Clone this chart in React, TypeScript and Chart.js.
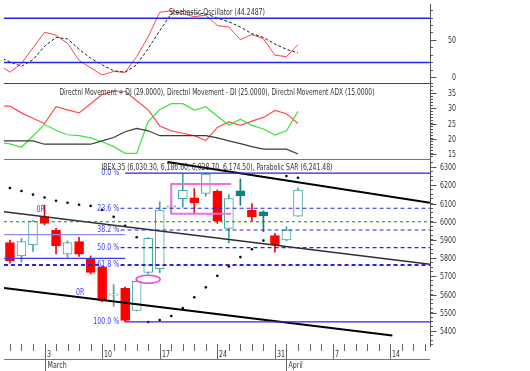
import React, { useEffect, useRef } from "react";
import { Chart, registerables } from "chart.js";

Chart.register(...registerables);

// ---------------- data ----------------
// trading days: index 0 = Feb 27, index 3 = Mar 3, index 24 = Apr 1
const candleOpen = [5886, 5813, 5873, 6028, 5955, 5822, 5891, 5795, 5750, 5597, 5634, 5513, 5722, 5742, 6080, 6127, 6131, 6155, 6167, 5964, 6170, 6064, 6055, 5924, 5901, 6030.3];
const candleHigh = [5900, 5909, 6008, 6091, 5964, 5895, 5915, 5813, 5760, 5655, 5641, 5683, 5913, 6109, 6127, 6264, 6182, 6267, 6175, 6149, 6236, 6100, 6060, 5937, 5973, 6186.6];
const candleLow = [5773, 5779, 5837, 5982, 5824, 5804, 5810, 5713, 5560, 5537, 5450, 5510, 5715, 5719, 6045, 6080, 6045, 6140, 5991, 5882, 6091, 6004, 5946, 5833, 5895, 6028.7];
const candleClose = [5786, 5891, 6004, 5991, 5869, 5886, 5822, 5722, 5568, 5605, 5459, 5673, 5909, 6064, 6088, 6173, 6105, 6262, 6004, 6127, 6142, 6028, 6033, 5873, 5955, 6174.5];
const sarValues = [6185, 6169, 6149, 6133, 6115, 6104, 6093, 6087, 6065, 6027, 5978, 5915, 5450, 5461, 5483, 5526, 5586, 5640, 5703, 5755, 5806, 5849, 5897, null, 6251, 6241.48];

// indicator series start one day earlier (index -1)
const indicatorStart = -1;
const stochK = [18, 7, 19, 40, 61, 57, 46, 23, 13, 3.5, 8, 7, 28, 55, 88, 90, 86, 82, 84, 70, 68, 51, 58, 52, 30, 28, 44.2487];
const stochD = [28, 21, 15, 24, 42, 54, 52, 38, 26, 17, 9, 7, 17, 39, 63, 86, 89, 87, 86, 80, 75, 68, 59, 54, 45, 38, 33];
const plusDI = [18.8, 18.3, 17.2, 20.9, 24.7, 22.8, 21.3, 21, 20.3, 19, 17.4, 15.2, 15.2, 25.6, 29.5, 31.5, 31.5, 29.4, 30.5, 27.4, 24.5, 26.4, 24.4, 23.2, 21.2, 22.6, 29];
const minusDI = [30.7, 30.7, 28.5, 26.7, 25, 30.5, 29.5, 28.5, 31.5, 34.5, 35.6, 35.6, 32.5, 29.5, 24.2, 22.6, 21.8, 21, 19.4, 23.7, 25.5, 24.4, 25.8, 27, 29.3, 28.2, 25];
const adxValues = [19.3, 19.3, 19.3, 19.3, 18.2, 18.2, 18.2, 18.2, 18.2, 19.3, 20.4, 22.3, 23.4, 22.6, 21, 21, 21, 21, 21, 20.3, 19.3, 18.4, 17.4, 16.6, 16.6, 16.6, 15];

const stochBands = [80, 20];

// Fibonacci retracement (swing high / swing low)
const fibHigh = 6267;
const fibLow = 5450;
const fibLevels = [0, 23.6, 38.2, 50, 61.8, 100];
const fibLabels = ["0.0 %", "23.6 %", "38.2 %", "50.0 %", "61.8 %", "100.0 %"];
const fibStartIdx = 10;

// drawn studies (index, price)
const trendA = [{ x: -0.516, y: 6055 }, { x: 36.457, y: 5767 }];
const trendB = [{ x: 13.67, y: 6328 }, { x: 36.457, y: 6104 }];
const trendC = [{ x: -0.516, y: 5637 }, { x: 33.19, y: 5376 }];
const greenLevel = 6000;
const oldLevels = [5929, 5799];
const boxTop = 6207;
const boxBottom = 6044;
const boxFrom = 14;
const boxTo = 19.2;
const gapMark = { x: 12, y: 5684 };
const orLabels = [{ x: 2.67, y: 6066 }, { x: 6.1, y: 5613 }];

// axis labels
const weekIdx = [3, 8, 13, 18, 23, 28, 33];
const weekLabels = ["3", "10", "17", "24", "31", "7", "14"];
const monthIdx = [3, 24];
const monthLabels = ["March", "April"];
const stochTicks = [50, 0];
const dmiTicks = [35, 30, 25, 20, 15];
const priceTicks = [6300, 6200, 6100, 6000, 5900, 5800, 5700, 5600, 5500, 5400];

const titleStoch = "Stochastic Oscillator (44.2487)";
const titleDmi = "Directnl Movement + DI (29.0000), Directnl Movement - DI (25.0000), Directnl Movement ADX (15.0000)";
const titlePrice = "IBEX 35 (6,030.30, 6,186.60, 6,028.70, 6,174.50), Parabolic SAR (6,241.48)";

// ---------------- layout / style ----------------
const X_MIN = -0.516;
const X_MAX = 36.457;
const FONT = '"Liberation Sans Narrow", "Arial Narrow", "DejaVu Sans Condensed", "Liberation Sans", sans-serif';
const TEAL = "#44a6a6";
const TEAL_DARK = "#157f7f";
const RED = "#ff0000";
const BLUE = "#2424f0";
const FIB_BLUE = "#3b3bff";

const range = (a: number, b: number, s: number) => {
  const out: number[] = [];
  for (let v = a; v <= b + 1e-9; v += s) out.push(Math.round(v * 1000) / 1000);
  return out;
};

const series = (vals: (number | null)[], start: number) => vals.map((v, i) => ({ x: start + i, y: v }));

const seg = (pts: any[], color: string, width: number, axis: string, dash: number[] = [], order = 0) => ({
  type: "line",
  data: pts,
  borderColor: color,
  borderWidth: width,
  borderDash: dash,
  pointRadius: 0,
  fill: false,
  tension: 0,
  yAxisID: axis,
  xAxisID: "x",
  order,
});

const fibPrice = (lvl: number) => fibHigh - (lvl / 100) * (fibHigh - fibLow);

function buildConfig() {
  const idx = candleOpen.map((_, i) => i);
  const kinds = idx.map((i) => {
    const prev = i > 0 ? candleClose[i - 1] : candleOpen[i];
    if (candleClose[i] < prev) return "red";
    return candleClose[i] < candleOpen[i] ? "filled" : "hollow";
  });
  const lineColor = kinds.map((k) => (k === "red" ? RED : k === "filled" ? TEAL_DARK : TEAL));

  const datasets: any[] = [];
  // stochastic
  stochBands.forEach((b) => datasets.push(seg([{ x: X_MIN, y: b }, { x: X_MAX, y: b }], BLUE, 1.5, "yS")));
  datasets.push(seg(series(stochD, indicatorStart), "#222222", 1, "yS", [3, 2]));
  datasets.push(seg(series(stochK, indicatorStart), "#ff4545", 1, "yS"));
  // DMI
  datasets.push(seg(series(adxValues, indicatorStart), "#3a3a3a", 1.2, "yD"));
  datasets.push(seg(series(plusDI, indicatorStart), "#3ee23e", 1.2, "yD"));
  datasets.push(seg(series(minusDI, indicatorStart), "#ff4d4d", 1.2, "yD"));

  // price panel studies
  datasets.push(seg([{ x: X_MIN, y: greenLevel }, { x: X_MAX, y: greenLevel }], "#1b7d1b", 1, "yP", [3, 3]));
  datasets.push(seg([{ x: X_MIN, y: oldLevels[0] }, { x: fibStartIdx, y: oldLevels[0] }], "#8c8cf0", 1.3, "yP"));
  datasets.push(seg([{ x: X_MIN, y: oldLevels[1] }, { x: fibStartIdx, y: oldLevels[1] }], "#3a3af5", 1.3, "yP"));
  fibLevels.forEach((lvl) => {
    const p = fibPrice(lvl);
    if (lvl === 0 || lvl === 100) {
      datasets.push(seg([{ x: fibStartIdx, y: p }, { x: X_MAX, y: p }], BLUE, 1.3, "yP"));
    } else if (lvl === 61.8) {
      datasets.push(seg([{ x: X_MIN, y: p }, { x: 7.85, y: p }], BLUE, 2, "yP", [4, 3]));
      datasets.push(seg([{ x: 9.6, y: p }, { x: X_MAX, y: p }], BLUE, 2, "yP", [4, 3]));
    } else {
      datasets.push(seg([{ x: 9.6, y: p }, { x: X_MAX, y: p }], BLUE, 1.2, "yP", [4, 3]));
    }
  });
  datasets.push(
    seg(
      [
        { x: boxTo, y: boxTop },
        { x: boxFrom, y: boxTop },
        { x: boxFrom, y: boxBottom },
        { x: boxTo, y: boxBottom },
      ],
      "#f070e0",
      2,
      "yP"
    )
  );
  datasets.push(seg(trendA, "#2e2e2e", 1.5, "yP"));
  datasets.push(seg(trendB, "#000000", 2, "yP"));
  datasets.push(seg(trendC, "#000000", 2, "yP"));

  // parabolic SAR
  datasets.push({
    type: "line",
    data: series(sarValues, 0),
    showLine: false,
    pointRadius: 1.3,
    pointBorderWidth: 0,
    pointBackgroundColor: "#000",
    yAxisID: "yP",
    xAxisID: "x",
    order: 0,
  });

  // candles: wicks then bodies
  datasets.push({
    type: "bar",
    data: idx.map((i) => ({ x: i, y: [candleLow[i], candleHigh[i]] })),
    backgroundColor: lineColor,
    borderWidth: 0,
    barThickness: 1,
    maxBarThickness: 1,
    grouped: false,
    yAxisID: "yP",
    xAxisID: "x",
    order: 3,
  });
  datasets.push({
    type: "bar",
    data: idx.map((i) => ({ x: i, y: [candleOpen[i], candleClose[i]] })),
    backgroundColor: kinds.map((k) => (k === "hollow" ? "#ffffff" : k === "filled" ? TEAL_DARK : RED)),
    borderColor: lineColor,
    borderWidth: 1,
    borderSkipped: false,
    barThickness: 9,
    maxBarThickness: 9,
    grouped: false,
    yAxisID: "yP",
    xAxisID: "x",
    order: 2,
  });

  const yAxis = (weight: number, min: number, max: number, ticks: number[]) => ({
    type: "linear",
    position: "right",
    stack: "panels",
    stackWeight: weight,
    min,
    max,
    ticks: { display: false },
    grid: { drawOnChartArea: false, drawTicks: true, tickLength: 3, color: "#555555" },
    border: { display: true, color: "#555555", width: 1 },
    afterBuildTicks: (s: any) => {
      s.ticks = ticks.map((v) => ({ value: v }));
    },
    afterFit: (s: any) => {
      s.width = 28;
    },
  });

  const overlay = {
    id: "overlay",
    afterDraw(chart: any) {
      const { ctx, chartArea: ca, scales } = chart;
      const xs = scales.x;
      const yS = scales.yS;
      const yD = scales.yD;
      const yP = scales.yP;
      const px = (v: number) => xs.getPixelForValue(v);
      ctx.save();
      ctx.font = `9px ${FONT}`;
      const k = 16 / ctx.measureText("6300").width;
      const text = (s: string, x: number, y: number, align: string, color: string, fit?: number) => {
        ctx.font = `9px ${FONT}`;
        const w = ctx.measureText(s).width;
        const sx = fit ? fit / w : k;
        ctx.save();
        ctx.translate(x, y);
        ctx.scale(sx, 1);
        ctx.textAlign = align;
        ctx.textBaseline = "middle";
        ctx.fillStyle = color;
        ctx.fillText(s, 0, 0);
        ctx.restore();
      };
      const line = (x1: number, y1: number, x2: number, y2: number, color: string, w = 1) => {
        ctx.beginPath();
        ctx.strokeStyle = color;
        ctx.lineWidth = w;
        ctx.moveTo(x1, y1);
        ctx.lineTo(x2, y2);
        ctx.stroke();
      };

      // panel separators
      line(ca.left, Math.round(yD.top) + 0.5, ca.right, Math.round(yD.top) + 0.5, "#4a4a4a");
      line(ca.left, Math.round(yP.top) + 0.5, ca.right, Math.round(yP.top) + 0.5, "#777777");

      // right axis major ticks + labels
      const ax = Math.round(ca.right) + 0.5;
      const axes: [any, number[]][] = [
        [yS, stochTicks],
        [yD, dmiTicks],
        [yP, priceTicks],
      ];
      axes.forEach(([sc, vals]) => {
        vals.forEach((v) => {
          const py = Math.round(sc.getPixelForValue(v)) + 0.5;
          line(ax, py, ax + 6, py, "#555555");
          text(String(v), ca.right + 26, py, "right", "#333333");
        });
      });

      // x axis
      const base = ca.bottom;
      for (let i = 0; i <= 36; i++) {
        const xx = Math.round(px(i)) + 0.5;
        line(xx, base - 2, xx, base + 5, "#666666");
      }
      weekIdx.forEach((d, j) => {
        const xx = Math.round(px(d)) + 0.5;
        line(xx, base - 2, xx, 359, "#666666");
        text(weekLabels[j], xx + 1.5, 354.5, "left", "#333333");
      });
      line(ca.left, 359.5, ca.right, 359.5, "#777777");
      monthIdx.forEach((d, j) => {
        const xx = Math.round(px(d)) + 0.5;
        line(xx, base - 2, xx, 371, "#666666");
        text(monthLabels[j], xx + 2, 366, "left", "#333333");
      });

      // fib labels
      fibLevels.forEach((lvl, j) => {
        text(fibLabels[j], px(fibStartIdx) - 6, yP.getPixelForValue(fibPrice(lvl)), "right", FIB_BLUE);
      });
      // 0R labels
      orLabels.forEach((p) => text("0R", px(p.x), yP.getPixelForValue(p.y), "center", FIB_BLUE));

      // gap ellipse
      ctx.beginPath();
      ctx.strokeStyle = "#f040e0";
      ctx.lineWidth = 1.5;
      ctx.ellipse(px(gapMark.x), yP.getPixelForValue(gapMark.y), 12, 4, 0, 0, Math.PI * 2);
      ctx.stroke();

      // panel titles
      const cx = (ca.left + ca.right) / 2;
      text(titleStoch, cx, yS.top + 8.4, "center", "#333333", 96);
      text(titleDmi, cx, yD.top + 9.5, "center", "#333333", 315);
      text(titlePrice, cx, yP.top + 8, "center", "#333333", 231);
      ctx.restore();
    },
  };

  return {
    type: "line",
    data: { datasets },
    options: {
      animation: false,
      responsive: false,
      devicePixelRatio: 1,
      events: [],
      layout: { padding: { left: 0, right: 72, top: 0, bottom: 25 } },
      plugins: { legend: { display: false }, tooltip: { enabled: false }, title: { display: false } },
      scales: {
        x: { type: "linear", min: X_MIN, max: X_MAX, display: false, offset: false, grid: { offset: false } },
        yS: yAxis(80, -7.6, 99.07, range(0, 90, 10)),
        yD: yAxis(77, 13.28, 38.28, range(14, 38, 1)),
        yP: yAxis(189, 5318, 6343.5, range(5325, 6325, 25)),
      },
    },
    plugins: [overlay],
  };
}

export default function App() {
  const ref = useRef<HTMLCanvasElement>(null);
  useEffect(() => {
    const chart = new Chart(ref.current as HTMLCanvasElement, buildConfig() as any);
    return () => chart.destroy();
  }, []);
  return (
    <div style={{ position: "absolute", left: 0, top: 0, width: 530, height: 371, background: "#ffffff" }}>
      <canvas ref={ref} width={530} height={371} style={{ display: "block" }} />
    </div>
  );
}
